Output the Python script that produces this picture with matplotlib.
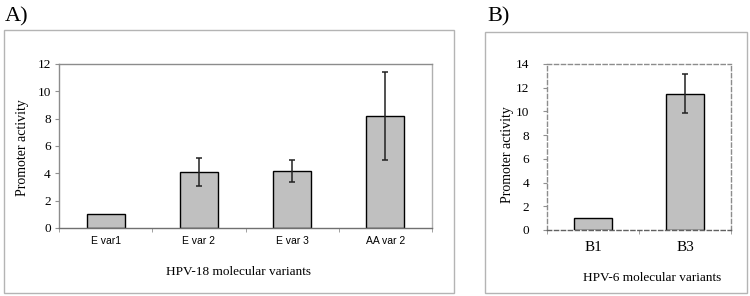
import matplotlib
matplotlib.use('Agg')
from matplotlib import pyplot as plt
from matplotlib.patches import Rectangle

# panel A data
a_labels = ['E var1', 'E var 2', 'E var 3', 'AA var 2']
a_values = [1.0, 4.1, 4.2, 8.2]
a_err = [0.0, 1.0, 0.8, 3.2]
a_yticks = [0, 2, 4, 6, 8, 10, 12]

# panel B data
b_labels = ['B1', 'B3']
b_values = [1.0, 11.5]
b_err = [0.0, 1.65]
b_yticks = [0, 2, 4, 6, 8, 10, 12, 14]

W, H = 750, 296
SERIF = 'Liberation Serif'
SANS = 'Liberation Sans'


def fx(x):
    return x / W


def fy(y):
    return 1 - y / H


def box(fig, x0, y0, x1, y1):
    fig.patches.append(Rectangle((fx(x0), fy(y1)), fx(x1 - x0), (y1 - y0) / H,
                                 transform=fig.transFigure, fill=False,
                                 edgecolor='#b4b4b4', lw=1.0))


def panel(fig, rect, labels, values, err, yticks, dashed, tick_font, ypad, xpad):
    ax = fig.add_axes(rect)
    xs = list(range(len(labels)))
    ax.bar(xs, values, width=0.41, color='#c0c0c0', edgecolor='black', lw=1.0, zorder=2)
    for x, v, e in zip(xs, values, err):
        if e > 0:
            ax.errorbar(x, v, yerr=e, fmt='none', ecolor='#222222', elinewidth=1.1,
                        capsize=2.5, capthick=1.1, zorder=3)
    ax.set_xlim(-0.5, len(labels) - 0.5)
    ax.set_ylim(yticks[0], yticks[-1])
    ax.set_yticks(yticks)
    ax.set_yticklabels([str(t) for t in yticks], fontfamily=SERIF, fontsize=9.5)
    ax.set_xticks(xs)
    ax.set_xticklabels(labels, **tick_font)
    ax.set_xticks([i - 0.5 for i in range(len(labels) + 1)], minor=True)
    ax.tick_params(axis='x', which='major', length=0, pad=xpad)
    ax.tick_params(axis='x', which='minor', length=3, color='#909090', direction='out')
    ax.tick_params(axis='y', length=3, color='#909090', direction='out', pad=ypad)
    for name, sp in ax.spines.items():
        sp.set_color('#8c8c8c')
        sp.set_linewidth(1.0)
        if dashed:
            sp.set_linestyle((0, (3, 2)))
    if not dashed:
        ax.spines['right'].set_color('#b0b0b0')
        ax.spines['bottom'].set_color('#707070')
    else:
        ax.spines['bottom'].set_color('#606060')
    return ax


fig = plt.figure(figsize=(7.5, 2.96), dpi=100)

# panel A
box(fig, 4, 30, 454, 293)
panel(fig, [fx(59), fy(228), (432 - 59) / W, (228 - 64) / H],
      a_labels, a_values, a_err, a_yticks, False,
      dict(fontfamily=SANS, fontsize=7.5), 3, 6)
fig.text(fx(5), fy(17), 'A)', fontfamily=SERIF, fontsize=16, ha='left', va='center')
fig.text(fx(238), fy(272), 'HPV-18 molecular variants', fontfamily=SERIF, fontsize=9.5,
         ha='center', va='center')
fig.text(fx(23), fy(148), 'Promoter activity', fontfamily=SERIF, fontsize=10,
         rotation=90, ha='center', va='center')

# panel B
box(fig, 485, 32, 747, 293)
panel(fig, [fx(547), fy(230), (731 - 547) / W, (230 - 64) / H],
      b_labels, b_values, b_err, b_yticks, True,
      dict(fontfamily=SERIF, fontsize=11), 10, 8)
fig.text(fx(487), fy(17), 'B)', fontfamily=SERIF, fontsize=16, ha='left', va='center')
fig.text(fx(652), fy(278), 'HPV-6 molecular variants', fontfamily=SERIF, fontsize=9.5,
         ha='center', va='center')
fig.text(fx(507), fy(155), 'Promoter activity', fontfamily=SERIF, fontsize=10,
         rotation=90, ha='center', va='center')

fig.savefig('out.png', dpi=100)
plt.close(fig)
